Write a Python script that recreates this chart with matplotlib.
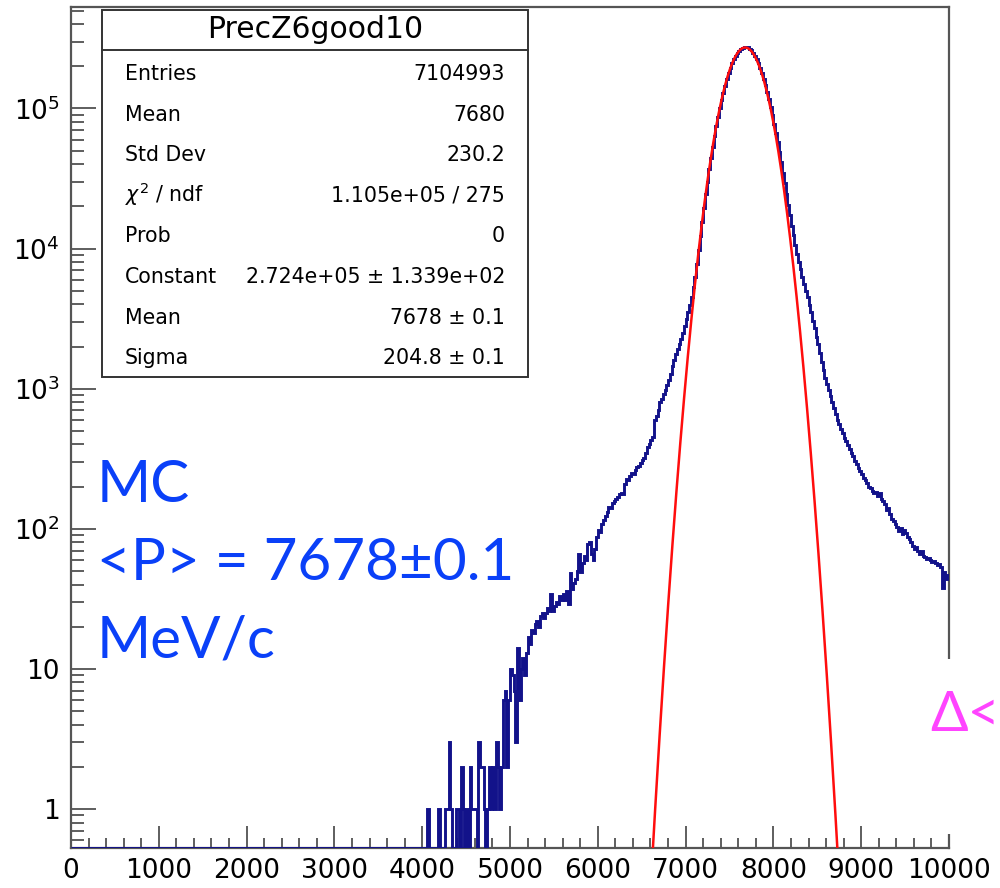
import numpy as np
import matplotlib
matplotlib.use("Agg")
import matplotlib.pyplot as plt
from matplotlib.patches import Rectangle
from matplotlib.lines import Line2D
from matplotlib.ticker import MultipleLocator, LogLocator, NullFormatter

plt.rcParams["font.family"] = ["DejaVu Sans"]

# histogram binning: 500 bins of 20 MeV/c, everything below 4000 is empty
BIN_WIDTH = 20
X_MIN, X_MAX = 0, 10000
FIRST_FILLED = 4000

# bin contents, 4000 .. 4980
sparse_counts = [0, 0, 0, 1, 0, 0, 0, 0, 0, 1,
                 0, 0, 0, 1, 1, 3, 1, 0, 0, 1,
                 1, 0, 2, 1, 0, 1, 0, 2, 1, 1,
                 1, 0, 3, 2, 2, 1, 0, 1, 2, 1,
                 2, 1, 3, 2, 1, 2, 6, 7, 2, 6]
# 5000 .. 6580
rise_counts = [10, 9, 7, 3, 14, 6, 10, 12, 9, 13,
               17, 15, 19, 18, 21, 22, 20, 24, 25, 23,
               25, 27, 26, 34, 26, 28, 30, 29, 33, 31,
               34, 31, 36, 29, 48, 37, 41, 44, 50, 66,
               49, 57, 64, 60, 78, 80, 66, 60, 72, 88,
               98, 95, 108, 115, 124, 132, 144, 140, 152, 158,
               163, 170, 176, 181, 178, 210, 225, 222, 238, 250,
               245, 262, 275, 282, 296, 310, 318, 350, 385, 400]
# 6600 .. 8480
core_counts = [430, 455, 600, 640, 700, 800, 850, 920, 980, 1070,
               1150, 1280, 1450, 1600, 1760, 1920, 2080, 2280, 2500, 2800,
               3150, 3500, 3950, 4550, 5300, 6300, 7700, 9700, 12300, 15500,
               19500, 24400, 30100, 36800, 44500, 53400, 63500, 74800, 87200, 100500,
               115000, 130000, 145800, 162000, 178000, 194000, 209500, 224000, 237500, 249000,
               258500, 266000, 271500, 274500, 275000, 272500, 267000, 259500, 250000, 238500,
               225500, 211000, 195500, 179500, 163500, 147500, 132000, 117000, 103000, 90000,
               78000, 67000, 57500, 48800, 41300, 34800, 29200, 24500, 20600, 17300,
               14600, 12400, 10600, 9200, 8000, 7100, 6300, 5600, 5000, 4500,
               3950, 3500, 3050, 2700, 2350]
# 8500 .. 9980
tail_counts = [2100, 1800, 1560, 1350, 1200, 1080, 980, 890, 810, 730,
               660, 600, 560, 515, 480, 445, 420, 395, 370, 350,
               330, 305, 290, 272, 260, 248, 232, 222, 212, 200,
               195, 186, 180, 184, 171, 181, 162, 158, 150, 137,
               140, 128, 118, 113, 108, 103, 97, 102, 92, 98,
               93, 88, 84, 80, 75, 72, 74, 69, 66, 70,
               64, 63, 61, 62, 60, 58, 59, 57, 55, 56,
               53, 38, 49, 44, 47]

# gaussian fit result
fit_constant = 2.724e5
fit_mean = 7678
fit_sigma = 204.8

stats_title = "PrecZ6good10"
stats_labels = ["Entries", "Mean", "Std Dev", r"$\chi^{2}$ / ndf", "Prob",
                "Constant", "Mean", "Sigma"]
stats_values = ["7104993", "7680", "230.2", "1.105e+05 / 275", "0",
                "2.724e+05 \u00b1 1.339e+02", "7678 \u00b1 0.1", "204.8 \u00b1 0.1"]

x_ticks = list(range(0, 10001, 1000))
y_ticks = [1, 10, 1e2, 1e3, 1e4, 1e5]
y_tick_labels = ["1", "10", r"$10^{2}$", r"$10^{3}$", r"$10^{4}$", r"$10^{5}$"]
Y_MIN, Y_MAX = 0.527, 5.3e5

note_lines = ["MC", "<P> = 7678\u00b10.1", "MeV/c"]
side_note = "\u0394<"

HIST_COLOR = "#12128a"
FIT_COLOR = "#ff0d0d"
NOTE_BLUE = "#0a40f8"
NOTE_PINK = "#ff44ff"
FRAME = "#555555"

W, H = 1000, 888


def fx(x):
    return x / W


def fy(y):
    return 1 - y / H


counts = np.concatenate([np.zeros((FIRST_FILLED - X_MIN) // BIN_WIDTH),
                         sparse_counts, rise_counts, core_counts, tail_counts])
edges = np.arange(X_MIN, X_MAX + BIN_WIDTH, BIN_WIDTH)

fig = plt.figure(figsize=(10, 8.88), dpi=100)
ax = fig.add_axes([fx(71), fy(848), fx(949) - fx(71), fy(7) - fy(848)])

# empty bins sit on the lower frame like in ROOT
ax.stairs(np.where(counts > 0, counts, Y_MIN), edges, baseline=None,
          color=HIST_COLOR, lw=2.1, zorder=3)

xs = np.linspace(6000, 9400, 3000)
ax.plot(xs, fit_constant * np.exp(-0.5 * ((xs - fit_mean) / fit_sigma) ** 2),
        color=FIT_COLOR, lw=1.8, zorder=4)

ax.set_yscale("log")
ax.set_xlim(X_MIN, X_MAX)
ax.set_ylim(Y_MIN, Y_MAX)

ax.set_xticks(x_ticks)
ax.set_xticklabels([str(t) for t in x_ticks])
ax.xaxis.set_minor_locator(MultipleLocator(200))
ax.set_yticks(y_ticks)
ax.set_yticklabels(y_tick_labels)
ax.yaxis.set_minor_locator(LogLocator(base=10, subs=np.arange(2, 10), numticks=20))
ax.yaxis.set_minor_formatter(NullFormatter())

ax.tick_params(which="both", direction="in", top=False, right=False,
               color="#333333", width=1.1, labelsize=19)
ax.tick_params(axis="x", which="major", length=15.5, pad=7)
ax.tick_params(axis="x", which="minor", length=7)
ax.tick_params(axis="y", which="major", length=18, pad=8)
ax.tick_params(axis="y", which="minor", length=9)

for side in ax.spines.values():
    side.set_color(FRAME)
    side.set_linewidth(1.6)

# statistics box
fig.add_artist(Rectangle((fx(102), fy(377)), fx(528) - fx(102), fy(10) - fy(377),
                         transform=fig.transFigure, facecolor="white",
                         edgecolor="#333333", lw=1.4, zorder=5))
fig.add_artist(Line2D([fx(102), fx(528)], [fy(50), fy(50)],
                      transform=fig.transFigure, color="#333333", lw=1.4, zorder=6))
fig.text(fx(315), fy(38), stats_title, ha="center", va="baseline",
         fontsize=21.5, zorder=7)
for i, (lab, val) in enumerate(zip(stats_labels, stats_values)):
    base = 80 + i * 40.6
    fig.text(fx(125), fy(base), lab, ha="left", va="baseline", fontsize=14.8, zorder=7)
    fig.text(fx(505), fy(base), val, ha="right", va="baseline", fontsize=14.8, zorder=7)

# blue annotation on the left
for i, line in enumerate(note_lines):
    fig.text(fx(97), fy(502 + i * 77.5), line, ha="left", va="baseline",
             fontsize=42, color=NOTE_BLUE, family=["Lato", "DejaVu Sans"], zorder=7)

# pasted label on the right edge
fig.add_artist(Rectangle((fx(918), fy(834)), fx(1000) - fx(918), fy(659) - fy(834),
                         transform=fig.transFigure, facecolor="white",
                         edgecolor="none", zorder=8))
fig.text(fx(930), fy(731), side_note, ha="left", va="baseline", fontsize=40,
         color=NOTE_PINK, family=["Lato", "DejaVu Sans"], zorder=9)

fig.savefig("out.png", dpi=100)
